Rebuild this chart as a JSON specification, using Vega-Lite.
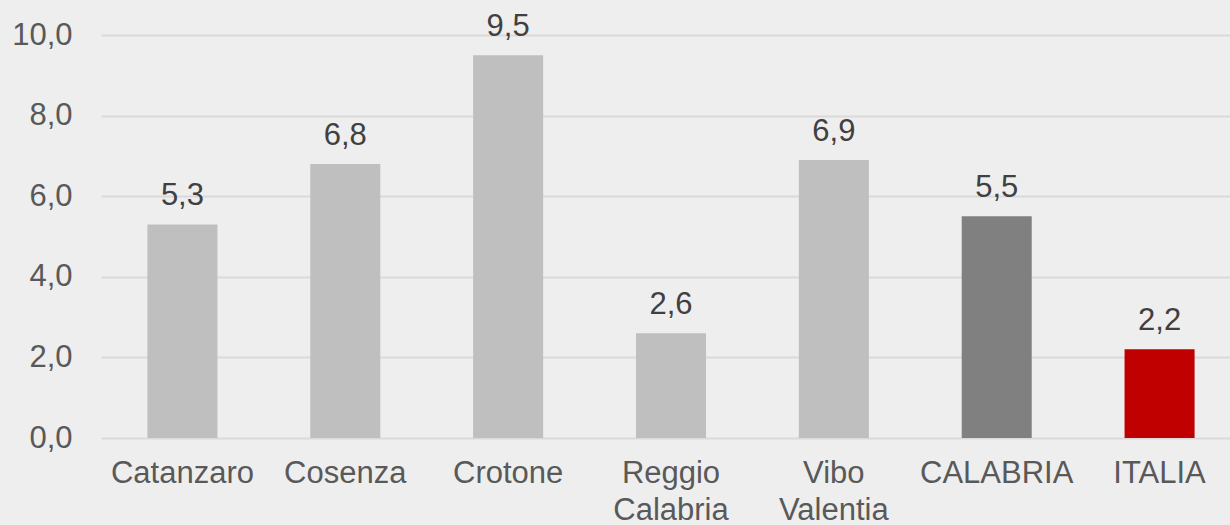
{
  "$schema": "https://vega.github.io/schema/vega-lite/v6.json",
  "width": 1129,
  "height": 403,
  "autosize": {"type": "none"},
  "padding": {"left": 101, "top": 35, "right": 0, "bottom": 87},
  "background": "#eeeeee",
  "config": {
    "view": {"stroke": null},
    "font": "Liberation Sans",
    "locale": {"number": {"decimal": ",", "thousands": ".", "grouping": [3], "currency": ["", " €"]}}
  },
  "data": {
    "values": [
      {"area": "Catanzaro", "value": 5.3, "kind": "prov"},
      {"area": "Cosenza", "value": 6.8, "kind": "prov"},
      {"area": "Crotone", "value": 9.5, "kind": "prov"},
      {"area": "Reggio Calabria", "value": 2.6, "kind": "prov"},
      {"area": "Vibo Valentia", "value": 6.9, "kind": "prov"},
      {"area": "CALABRIA", "value": 5.5, "kind": "reg"},
      {"area": "ITALIA", "value": 2.2, "kind": "naz"}
    ]
  },
  "encoding": {
    "x": {
      "field": "area",
      "type": "nominal",
      "sort": null,
      "scale": {"range": [0, 1140], "paddingInner": 0.57, "paddingOuter": 0.285},
      "axis": {
        "title": null,
        "labelAngle": 0,
        "domain": false,
        "ticks": false,
        "labelFontSize": 31,
        "labelColor": "#595959",
        "labelPadding": 20,
        "labelLineHeight": 37,
        "labelBaseline": "top",
        "labelExpr": "datum.label == 'Reggio Calabria' || datum.label == 'Vibo Valentia' ? split(datum.label, ' ') : datum.label"
      }
    },
    "y": {
      "field": "value",
      "type": "quantitative",
      "scale": {"domain": [0, 10], "nice": false},
      "axis": {
        "title": null,
        "values": [0, 2, 4, 6, 8, 10],
        "format": ".1f",
        "domain": false,
        "ticks": false,
        "labelFontSize": 31,
        "labelColor": "#595959",
        "labelPadding": 29,
        "gridColor": "#d9d9d9",
        "gridWidth": 2
      }
    }
  },
  "layer": [
    {
      "mark": {"type": "bar"},
      "encoding": {
        "color": {
          "field": "kind",
          "type": "nominal",
          "scale": {"domain": ["prov", "reg", "naz"], "range": ["#bfbfbf", "#808080", "#c00000"]},
          "legend": null
        }
      }
    },
    {
      "mark": {"type": "text", "baseline": "bottom", "dy": -12, "fontSize": 31, "color": "#404040"},
      "encoding": {
        "text": {"field": "value", "type": "quantitative", "format": ".1f"}
      }
    }
  ]
}
